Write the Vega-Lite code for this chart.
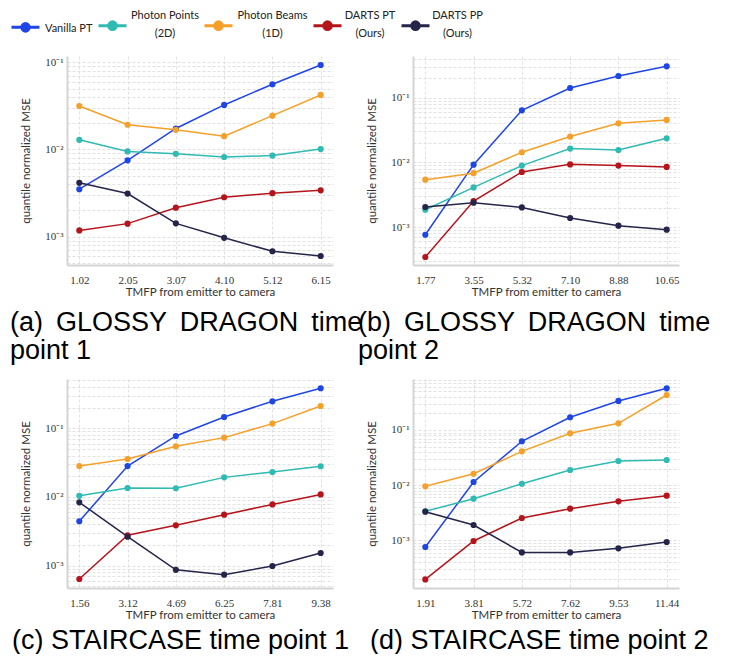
{
  "$schema": "https://vega.github.io/schema/vega-lite/v6.json",
  "padding": {"left": 10, "top": 10, "right": 0, "bottom": 0},
  "bounds": "flush",
  "columns": 2,
  "spacing": {"row": 114, "column": 80},
  "resolve": {"scale": {"x": "independent", "y": "independent", "color": "shared"}},
  "data": {"values": [
    {"p":"a","x":"1.02","m":"Vanilla PT","v":0.0035},
    {"p":"a","x":"2.05","m":"Vanilla PT","v":0.0075},
    {"p":"a","x":"3.07","m":"Vanilla PT","v":0.0174},
    {"p":"a","x":"4.10","m":"Vanilla PT","v":0.0324},
    {"p":"a","x":"5.12","m":"Vanilla PT","v":0.056},
    {"p":"a","x":"6.15","m":"Vanilla PT","v":0.093},
    {"p":"a","x":"1.02","m":"Photon Points","v":0.0129},
    {"p":"a","x":"2.05","m":"Photon Points","v":0.0095},
    {"p":"a","x":"3.07","m":"Photon Points","v":0.0089},
    {"p":"a","x":"4.10","m":"Photon Points","v":0.0082},
    {"p":"a","x":"5.12","m":"Photon Points","v":0.0085},
    {"p":"a","x":"6.15","m":"Photon Points","v":0.0101},
    {"p":"a","x":"1.02","m":"Photon Beams","v":0.0315},
    {"p":"a","x":"2.05","m":"Photon Beams","v":0.0192},
    {"p":"a","x":"3.07","m":"Photon Beams","v":0.0168},
    {"p":"a","x":"4.10","m":"Photon Beams","v":0.0142},
    {"p":"a","x":"5.12","m":"Photon Beams","v":0.0244},
    {"p":"a","x":"6.15","m":"Photon Beams","v":0.0422},
    {"p":"a","x":"1.02","m":"DARTS PT","v":0.00118},
    {"p":"a","x":"2.05","m":"DARTS PT","v":0.00141},
    {"p":"a","x":"3.07","m":"DARTS PT","v":0.00215},
    {"p":"a","x":"4.10","m":"DARTS PT","v":0.00283},
    {"p":"a","x":"5.12","m":"DARTS PT","v":0.00315},
    {"p":"a","x":"6.15","m":"DARTS PT","v":0.0034},
    {"p":"a","x":"1.02","m":"DARTS PP","v":0.00414},
    {"p":"a","x":"2.05","m":"DARTS PP","v":0.00312},
    {"p":"a","x":"3.07","m":"DARTS PP","v":0.00142},
    {"p":"a","x":"4.10","m":"DARTS PP","v":0.00097},
    {"p":"a","x":"5.12","m":"DARTS PP","v":0.00068},
    {"p":"a","x":"6.15","m":"DARTS PP","v":0.0006},

    {"p":"b","x":"1.77","m":"Vanilla PT","v":0.00076},
    {"p":"b","x":"3.55","m":"Vanilla PT","v":0.0092},
    {"p":"b","x":"5.32","m":"Vanilla PT","v":0.0637},
    {"p":"b","x":"7.10","m":"Vanilla PT","v":0.141},
    {"p":"b","x":"8.88","m":"Vanilla PT","v":0.216},
    {"p":"b","x":"10.65","m":"Vanilla PT","v":0.305},
    {"p":"b","x":"1.77","m":"Photon Points","v":0.00185},
    {"p":"b","x":"3.55","m":"Photon Points","v":0.0041},
    {"p":"b","x":"5.32","m":"Photon Points","v":0.0089},
    {"p":"b","x":"7.10","m":"Photon Points","v":0.0163},
    {"p":"b","x":"8.88","m":"Photon Points","v":0.0155},
    {"p":"b","x":"10.65","m":"Photon Points","v":0.0235},
    {"p":"b","x":"1.77","m":"Photon Beams","v":0.0054},
    {"p":"b","x":"3.55","m":"Photon Beams","v":0.0068},
    {"p":"b","x":"5.32","m":"Photon Beams","v":0.0143},
    {"p":"b","x":"7.10","m":"Photon Beams","v":0.025},
    {"p":"b","x":"8.88","m":"Photon Beams","v":0.0401},
    {"p":"b","x":"10.65","m":"Photon Beams","v":0.0452},
    {"p":"b","x":"1.77","m":"DARTS PT","v":0.000344},
    {"p":"b","x":"3.55","m":"DARTS PT","v":0.00252},
    {"p":"b","x":"5.32","m":"DARTS PT","v":0.0071},
    {"p":"b","x":"7.10","m":"DARTS PT","v":0.0093},
    {"p":"b","x":"8.88","m":"DARTS PT","v":0.0089},
    {"p":"b","x":"10.65","m":"DARTS PT","v":0.0085},
    {"p":"b","x":"1.77","m":"DARTS PP","v":0.00204},
    {"p":"b","x":"3.55","m":"DARTS PP","v":0.00238},
    {"p":"b","x":"5.32","m":"DARTS PP","v":0.00201},
    {"p":"b","x":"7.10","m":"DARTS PP","v":0.00138},
    {"p":"b","x":"8.88","m":"DARTS PP","v":0.00105},
    {"p":"b","x":"10.65","m":"DARTS PP","v":0.00091},

    {"p":"c","x":"1.56","m":"Vanilla PT","v":0.00443},
    {"p":"c","x":"3.12","m":"Vanilla PT","v":0.0282},
    {"p":"c","x":"4.69","m":"Vanilla PT","v":0.0773},
    {"p":"c","x":"6.25","m":"Vanilla PT","v":0.146},
    {"p":"c","x":"7.81","m":"Vanilla PT","v":0.247},
    {"p":"c","x":"9.38","m":"Vanilla PT","v":0.383},
    {"p":"c","x":"1.56","m":"Photon Points","v":0.0104},
    {"p":"c","x":"3.12","m":"Photon Points","v":0.0135},
    {"p":"c","x":"4.69","m":"Photon Points","v":0.0134},
    {"p":"c","x":"6.25","m":"Photon Points","v":0.0193},
    {"p":"c","x":"7.81","m":"Photon Points","v":0.0231},
    {"p":"c","x":"9.38","m":"Photon Points","v":0.028},
    {"p":"c","x":"1.56","m":"Photon Beams","v":0.0282},
    {"p":"c","x":"3.12","m":"Photon Beams","v":0.0357},
    {"p":"c","x":"4.69","m":"Photon Beams","v":0.0547},
    {"p":"c","x":"6.25","m":"Photon Beams","v":0.0731},
    {"p":"c","x":"7.81","m":"Photon Beams","v":0.117},
    {"p":"c","x":"9.38","m":"Photon Beams","v":0.211},
    {"p":"c","x":"1.56","m":"DARTS PT","v":0.00064},
    {"p":"c","x":"3.12","m":"DARTS PT","v":0.00277},
    {"p":"c","x":"4.69","m":"DARTS PT","v":0.00387},
    {"p":"c","x":"6.25","m":"DARTS PT","v":0.00553},
    {"p":"c","x":"7.81","m":"DARTS PT","v":0.0078},
    {"p":"c","x":"9.38","m":"DARTS PT","v":0.0109},
    {"p":"c","x":"1.56","m":"DARTS PP","v":0.00835},
    {"p":"c","x":"3.12","m":"DARTS PP","v":0.00264},
    {"p":"c","x":"4.69","m":"DARTS PP","v":0.00087},
    {"p":"c","x":"6.25","m":"DARTS PP","v":0.00074},
    {"p":"c","x":"7.81","m":"DARTS PP","v":0.00099},
    {"p":"c","x":"9.38","m":"DARTS PP","v":0.00153},

    {"p":"d","x":"1.91","m":"Vanilla PT","v":0.000757},
    {"p":"d","x":"3.81","m":"Vanilla PT","v":0.0114},
    {"p":"d","x":"5.72","m":"Vanilla PT","v":0.0624},
    {"p":"d","x":"7.62","m":"Vanilla PT","v":0.17},
    {"p":"d","x":"9.53","m":"Vanilla PT","v":0.336},
    {"p":"d","x":"11.44","m":"Vanilla PT","v":0.569},
    {"p":"d","x":"1.91","m":"Photon Points","v":0.00336},
    {"p":"d","x":"3.81","m":"Photon Points","v":0.00569},
    {"p":"d","x":"5.72","m":"Photon Points","v":0.0106},
    {"p":"d","x":"7.62","m":"Photon Points","v":0.0188},
    {"p":"d","x":"9.53","m":"Photon Points","v":0.0274},
    {"p":"d","x":"11.44","m":"Photon Points","v":0.0286},
    {"p":"d","x":"1.91","m":"Photon Beams","v":0.00953},
    {"p":"d","x":"3.81","m":"Photon Beams","v":0.0161},
    {"p":"d","x":"5.72","m":"Photon Beams","v":0.041},
    {"p":"d","x":"7.62","m":"Photon Beams","v":0.087},
    {"p":"d","x":"9.53","m":"Photon Beams","v":0.132},
    {"p":"d","x":"11.44","m":"Photon Beams","v":0.43},
    {"p":"d","x":"1.91","m":"DARTS PT","v":0.000196},
    {"p":"d","x":"3.81","m":"DARTS PT","v":0.000973},
    {"p":"d","x":"5.72","m":"DARTS PT","v":0.00254},
    {"p":"d","x":"7.62","m":"DARTS PT","v":0.00375},
    {"p":"d","x":"9.53","m":"DARTS PT","v":0.00509},
    {"p":"d","x":"11.44","m":"DARTS PT","v":0.00646},
    {"p":"d","x":"1.91","m":"DARTS PP","v":0.00331},
    {"p":"d","x":"3.81","m":"DARTS PP","v":0.0019},
    {"p":"d","x":"5.72","m":"DARTS PP","v":0.000605},
    {"p":"d","x":"7.62","m":"DARTS PP","v":0.000605},
    {"p":"d","x":"9.53","m":"DARTS PP","v":0.000716},
    {"p":"d","x":"11.44","m":"DARTS PP","v":0.000933}
  ]},
  "concat": [
    {
      "width": 266, "height": 209,
      "title": {"text": ["(a)\u00a0\u2009GLOSSY\u00a0\u2009DRAGON\u00a0\u2009time", "point 1"], "dx": -57, "offset": 12},
      "transform": [{"filter": "datum.p == 'a'"}],
      "mark": {"type": "line", "point": {"size": 38, "filled": true, "opacity": 1}, "strokeWidth": 1.5},
      "encoding": {
        "x": {"field": "x", "type": "ordinal", "sort": null, "scale": {"type": "point", "padding": 0.255}, "axis": {"title": "TMFP from emitter to camera"}},
        "y": {"field": "v", "type": "quantitative", "scale": {"type": "log", "domain": [0.000473, 0.118], "nice": false},
          "axis": {"title": "quantile normalized MSE", "values": [0.0005,0.0006,0.0007,0.0008,0.0009,0.001,0.002,0.003,0.004,0.005,0.006,0.007,0.008,0.009,0.01,0.02,0.03,0.04,0.05,0.06,0.07,0.08,0.09,0.1]}},
        "color": {"field": "m", "type": "nominal", "sort": null,
          "scale": {"domain": ["Vanilla PT","Photon Points","Photon Beams","DARTS PT","DARTS PP"], "range": ["#1f45e6","#2fbab3","#f5a02a","#b5141b","#25254a"]},
          "legend": {
            "orient": "none", "legendX": -57, "legendY": -46, "direction": "horizontal", "columns": 5,
            "title": null, "symbolType": "M-1,0H1M-0.27,0A0.27,0.27 0 1,1 0.27,0A0.27,0.27 0 1,1 -0.27,0Z",
            "symbolSize": 784, "symbolStrokeWidth": 3, "symbolOpacity": 1,
            "labelFont": "Lato", "labelFontSize": 11, "labelColor": "#222", "labelOffset": 4, "columnPadding": -1, "labelLimit": 300,
            "labelExpr": "datum.value == 'Photon Points' ? ['Photon Points', '(2D)'] : datum.value == 'Photon Beams' ? ['Photon Beams', '(1D)'] : datum.value == 'DARTS PT' ? ['DARTS PT', '(Ours)'] : datum.value == 'DARTS PP' ? ['DARTS PP', '(Ours)'] : datum.value",
            "encode": {
              "symbols": {"update": {"fill": {"scale": "color", "field": "value"}, "stroke": {"scale": "color", "field": "value"}}},
              "labels": {"update": {
                "lineHeight": {"value": 17.5},
                "baseline": {"value": "top"},
                "align": {"signal": "datum.value == 'Vanilla PT' ? 'left' : 'center'"},
                "dx": {"signal": "datum.value == 'Photon Points' ? 33 : datum.value == 'Photon Beams' ? 34.5 : datum.value == 'DARTS PT' ? 23 : datum.value == 'DARTS PP' ? 22.5 : 0"},
                "dy": {"signal": "datum.value == 'Vanilla PT' ? -4.8 : -15.3"}
              }}
            }
          }}
      }
    },
    {
      "width": 266, "height": 209,
      "title": {"text": ["(b)\u00a0\u2009GLOSSY\u00a0\u2009DRAGON\u00a0\u2009time", "point 2"], "dx": -55, "offset": 12},
      "transform": [{"filter": "datum.p == 'b'"}],
      "mark": {"type": "line", "point": {"size": 38, "filled": true, "opacity": 1}, "strokeWidth": 1.5},
      "encoding": {
        "x": {"field": "x", "type": "ordinal", "sort": null, "scale": {"type": "point", "padding": 0.255}, "axis": {"title": "TMFP from emitter to camera"}},
        "y": {"field": "v", "type": "quantitative", "scale": {"type": "log", "domain": [0.000259, 0.44], "nice": false},
          "axis": {"title": "quantile normalized MSE", "values": [0.0003,0.0004,0.0005,0.0006,0.0007,0.0008,0.0009,0.001,0.002,0.003,0.004,0.005,0.006,0.007,0.008,0.009,0.01,0.02,0.03,0.04,0.05,0.06,0.07,0.08,0.09,0.1,0.2,0.3,0.4]}},
        "color": {"field": "m", "type": "nominal", "sort": null}
      }
    },
    {
      "width": 266, "height": 209,
      "title": {"text": "(c) STAIRCASE time point 1", "dx": -55, "offset": 7},
      "transform": [{"filter": "datum.p == 'c'"}],
      "mark": {"type": "line", "point": {"size": 38, "filled": true, "opacity": 1}, "strokeWidth": 1.5},
      "encoding": {
        "x": {"field": "x", "type": "ordinal", "sort": null, "scale": {"type": "point", "padding": 0.255}, "axis": {"title": "TMFP from emitter to camera"}},
        "y": {"field": "v", "type": "quantitative", "scale": {"type": "log", "domain": [0.000473, 0.522], "nice": false},
          "axis": {"title": "quantile normalized MSE", "values": [0.0005,0.0006,0.0007,0.0008,0.0009,0.001,0.002,0.003,0.004,0.005,0.006,0.007,0.008,0.009,0.01,0.02,0.03,0.04,0.05,0.06,0.07,0.08,0.09,0.1,0.2,0.3,0.4,0.5]}},
        "color": {"field": "m", "type": "nominal", "sort": null}
      }
    },
    {
      "width": 266, "height": 209,
      "title": {"text": "(d) STAIRCASE time point 2", "dx": -43, "offset": 7},
      "transform": [{"filter": "datum.p == 'd'"}],
      "mark": {"type": "line", "point": {"size": 38, "filled": true, "opacity": 1}, "strokeWidth": 1.5},
      "encoding": {
        "x": {"field": "x", "type": "ordinal", "sort": null, "scale": {"type": "point", "padding": 0.255}, "axis": {"title": "TMFP from emitter to camera"}},
        "y": {"field": "v", "type": "quantitative", "scale": {"type": "log", "domain": [0.000137, 0.839], "nice": false},
          "axis": {"title": "quantile normalized MSE", "values": [0.0002,0.0003,0.0004,0.0005,0.0006,0.0007,0.0008,0.0009,0.001,0.002,0.003,0.004,0.005,0.006,0.007,0.008,0.009,0.01,0.02,0.03,0.04,0.05,0.06,0.07,0.08,0.09,0.1,0.2,0.3,0.4,0.5,0.6,0.7,0.8]}},
        "color": {"field": "m", "type": "nominal", "sort": null}
      }
    }
  ],
  "config": {
    "font": "Lato",
    "view": {"stroke": null},
    "title": {"orient": "bottom", "anchor": "start", "frame": "group", "font": "Liberation Sans", "fontSize": 27, "fontWeight": "normal", "lineHeight": 28, "color": "#000"},
    "axis": {
      "grid": true, "gridColor": "#d9d9d9", "gridDash": [3, 2], "gridWidth": 0.8,
      "domainColor": "#d4d4d4", "domainWidth": 2, "ticks": false,
      "labelFont": "Liberation Serif", "labelFontSize": 11, "labelColor": "#333", "labelOverlap": false,
      "titleFont": "Lato", "titleFontSize": 11.5, "titleFontWeight": "normal", "titleColor": "#333"
    },
    "axisX": {"labelAngle": 0, "labelPadding": 9, "titlePadding": 1},
    "axisY": {"labelPadding": 4, "titlePadding": 13, "labelExpr": "datum.value == 0.1 ? '10⁻¹' : datum.value == 0.01 ? '10⁻²' : datum.value == 0.001 ? '10⁻³' : ''"}
  }
}
